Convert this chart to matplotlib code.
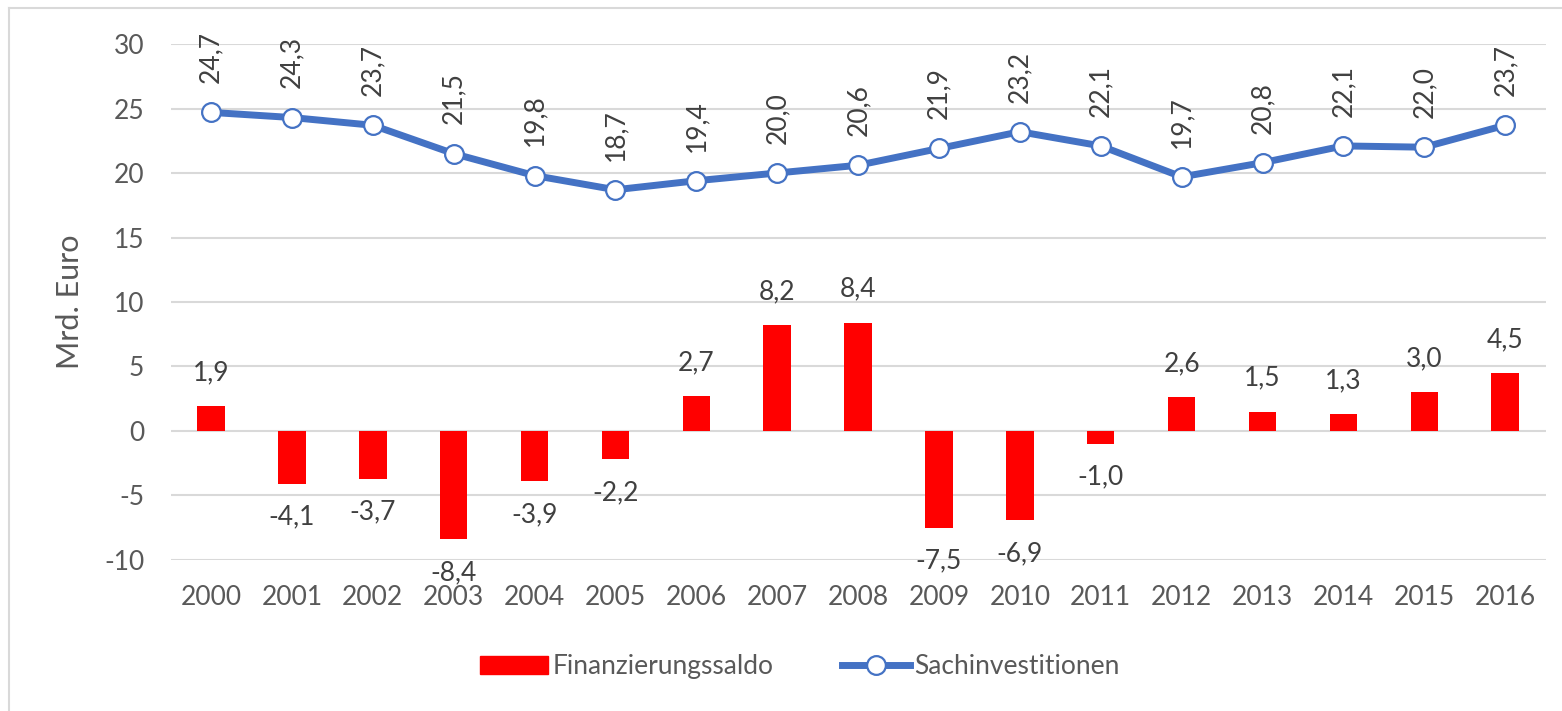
import matplotlib.pyplot as plt
from matplotlib.lines import Line2D
from matplotlib.patches import Patch

years = [str(y) for y in range(2000, 2017)]
finanzierungssaldo = [1.9, -4.1, -3.7, -8.4, -3.9, -2.2, 2.7, 8.2, 8.4,
                      -7.5, -6.9, -1.0, 2.6, 1.5, 1.3, 3.0, 4.5]
sachinvestitionen = [24.7, 24.3, 23.7, 21.5, 19.8, 18.7, 19.4, 20.0, 20.6,
                     21.9, 23.2, 22.1, 19.7, 20.8, 22.1, 22.0, 23.7]
yticks = [-10, -5, 0, 5, 10, 15, 20, 25, 30]

RED = "#FF0000"
BLUE = "#4472C4"
GREY = "#595959"
DARK = "#404040"

plt.rcParams["font.family"] = ["Lato", "DejaVu Sans"]

fig = plt.figure(figsize=(15.62, 7.11), dpi=100)
ax = fig.add_axes([0.1092, 0.2124, 0.8803, 0.7257])

x = list(range(len(years)))
ax.bar(x, finanzierungssaldo, width=0.34, color=RED, zorder=2)
ax.plot(x, sachinvestitionen, color=BLUE, lw=5, marker="o", ms=13.5,
        mfc="white", mec=BLUE, mew=1.6, zorder=3)

fmt = lambda v: f"{v:.1f}".replace(".", ",")

for xi, v in zip(x, finanzierungssaldo):
    off = 15 if v >= 0 else -15
    ax.annotate(fmt(v), (xi, v), xytext=(0, off), textcoords="offset points",
                ha="center", va="bottom" if v >= 0 else "top",
                fontsize=19, color=DARK)

for xi, v in zip(x, sachinvestitionen):
    ax.annotate(fmt(v), (xi, v), xytext=(0, 21), textcoords="offset points",
                ha="center", va="bottom", rotation=90,
                fontsize=19, color=DARK)

ax.set_xlim(-0.5, len(years) - 0.5)
ax.set_ylim(-10, 30)
ax.set_yticks(yticks)
ax.set_yticklabels([str(t) for t in yticks])
ax.set_xticks(x)
ax.set_xticklabels(years)
ax.tick_params(length=0, labelsize=19, labelcolor=GREY)
ax.tick_params(axis="x", pad=18)
ax.tick_params(axis="y", pad=19)
ax.grid(axis="y", color="#D9D9D9", lw=1.5, zorder=0)
ax.set_axisbelow(True)
for s in ax.spines.values():
    s.set_visible(False)
ax.set_ylabel("Mrd. Euro", fontsize=22, color=GREY, labelpad=14)

handles = [Patch(color=RED, label="Finanzierungssaldo"),
           Line2D([], [], color=BLUE, lw=5, marker="o", ms=13.5, mfc="white",
                  mec=BLUE, mew=1.6, label="Sachinvestitionen")]
fig.legend(handles=handles, loc="center", bbox_to_anchor=(0.512, 0.062),
           ncol=2, frameon=False, fontsize=19, labelcolor=GREY,
           handlelength=2.6, handletextpad=0.15, columnspacing=2.6)

# outer chart border
fig.add_artist(Line2D([9 / 1562, 9 / 1562], [0, 1 - 8 / 711],
                      transform=fig.transFigure, color="#D9D9D9", lw=1.5))
fig.add_artist(Line2D([9 / 1562, 1], [1 - 8 / 711, 1 - 8 / 711],
                      transform=fig.transFigure, color="#D9D9D9", lw=1.5))

fig.savefig("out.png", dpi=100)
